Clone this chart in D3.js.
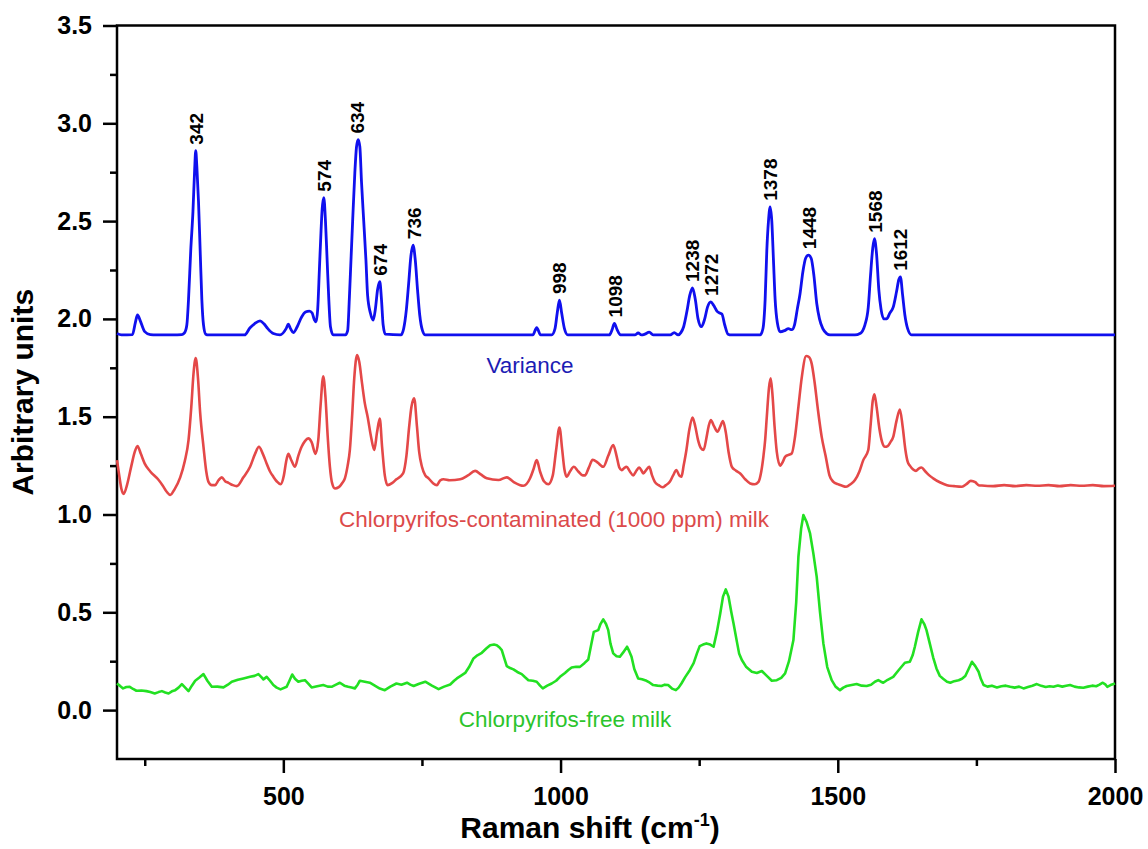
<!DOCTYPE html>
<html>
<head>
<meta charset="utf-8">
<script src="https://cdn.jsdelivr.net/npm/d3@7"></script>
<style>
    body { margin: 0; background: #fff; }
    text { font-family: Arial, "Liberation Sans", sans-serif; }
</style>
</head>
<body>
<div id="chart"></div>
<script>
'use strict';

// Tick values
const xMajorTicks = [500, 1000, 1500, 2000];
const xMinorTicks = [250, 750, 1250, 1750];
const yMajorTicks = [0, 0.5, 1.0, 1.5, 2.0, 2.5, 3.0, 3.5];
const yMinorTicks = [0.25, 0.75, 1.25, 1.75, 2.25, 2.75, 3.25];

// Annotated peaks (cm-1) on the variance spectrum
const peakLabels = [342, 574, 634, 674, 736, 998, 1098, 1238, 1272, 1378, 1448, 1568, 1612];

// Series names
const seriesNames = ['Variance', 'Chlorpyrifos-contaminated (1000 ppm) milk', 'Chlorpyrifos-free milk'];

// Variance spectrum [shift, value]
const varianceSpectrum = [
    [200, 1.925], [208, 1.918], [228, 1.92], [233, 1.98], [237, 2.02], [242, 1.99], [250, 1.935], [260, 1.92],
    [271, 1.918], [300, 1.918], [317, 1.92], [322, 1.93], [326, 1.97], [329, 2.1], [333, 2.35], [337, 2.55],
    [340, 2.76], [342, 2.86], [344, 2.78], [347, 2.6], [350, 2.35], [353, 2.1], [356, 1.97], [360, 1.922],
    [365, 1.918], [430, 1.918], [440, 1.955], [448, 1.975], [458, 1.99], [465, 1.975], [472, 1.95], [482, 1.925],
    [494, 1.918], [505, 1.95], [509, 1.973], [513, 1.95], [518, 1.93], [525, 1.96], [533, 2.01], [540, 2.035],
    [547, 2.04], [552, 2.03], [556, 1.995], [559, 1.985], [562, 2.05], [565, 2.25], [568, 2.45], [570, 2.56],
    [573, 2.62], [576, 2.5], [579, 2.3], [582, 2.1], [585, 1.96], [590, 1.918], [612, 1.918], [616, 1.94],
    [619, 2.1], [622, 2.3], [625, 2.5], [629, 2.75], [632, 2.88], [635, 2.917], [638, 2.88], [641, 2.7],
    [645, 2.5], [649, 2.3], [652, 2.12], [657, 2.03], [662, 1.994], [666, 2.05], [670, 2.15], [674, 2.19],
    [677, 2.1], [680, 1.97], [684, 1.922], [712, 1.918], [717, 1.95], [722, 2.05], [726, 2.18], [730, 2.32],
    [734, 2.377], [738, 2.3], [742, 2.15], [746, 2.02], [751, 1.94], [756, 1.918], [950, 1.918], [957, 1.955],
    [964, 1.918], [984, 1.918], [990, 1.95], [994, 2.03], [998, 2.096], [1002, 2.03], [1007, 1.95], [1013, 1.918],
    [1088, 1.918], [1093, 1.945], [1097, 1.977], [1102, 1.945], [1108, 1.918], [1134, 1.918], [1140, 1.928],
    [1146, 1.918], [1152, 1.922], [1160, 1.932], [1167, 1.918], [1198, 1.918], [1205, 1.93], [1212, 1.918],
    [1217, 1.93], [1222, 1.96], [1228, 2.04], [1233, 2.12], [1238, 2.158], [1243, 2.1], [1248, 2.0], [1254, 1.96],
    [1260, 2.0], [1265, 2.06], [1271, 2.087], [1276, 2.07], [1282, 2.04], [1287, 2.03], [1291, 2.025], [1296, 1.97],
    [1302, 1.922], [1308, 1.918], [1360, 1.918], [1365, 1.95], [1369, 2.1], [1372, 2.35], [1375, 2.5],
    [1378, 2.573], [1381, 2.5], [1384, 2.3], [1387, 2.1], [1391, 1.98], [1396, 1.934], [1404, 1.94], [1411, 1.95],
    [1417, 1.945], [1422, 1.97], [1427, 2.05], [1432, 2.13], [1437, 2.24], [1442, 2.31], [1447, 2.326],
    [1452, 2.31], [1457, 2.22], [1462, 2.08], [1467, 2.0], [1473, 1.95], [1480, 1.925], [1486, 1.918],
    [1531, 1.918], [1540, 1.925], [1549, 1.97], [1555, 2.06], [1559, 2.22], [1563, 2.36], [1566, 2.41],
    [1570, 2.33], [1574, 2.15], [1578, 2.05], [1583, 2.0], [1588, 2.0], [1594, 2.03], [1600, 2.06], [1606, 2.14],
    [1610, 2.2], [1613, 2.215], [1617, 2.12], [1621, 2.02], [1626, 1.95], [1633, 1.918], [2000, 1.918]
];

// Contaminated milk spectrum [shift, value]
const contaminatedSpectrum = [
    [200, 1.278], [204, 1.2], [208, 1.13], [212, 1.105], [218, 1.15], [226, 1.25], [232, 1.32], [237, 1.35],
    [243, 1.31], [250, 1.26], [260, 1.22], [274, 1.18], [282, 1.15], [290, 1.115], [296, 1.1], [304, 1.13],
    [314, 1.19], [322, 1.27], [329, 1.38], [334, 1.55], [338, 1.72], [342, 1.8], [346, 1.7], [350, 1.52],
    [356, 1.346], [361, 1.22], [365, 1.167], [371, 1.15], [377, 1.15], [383, 1.175], [389, 1.19], [395, 1.17],
    [401, 1.162], [409, 1.15], [416, 1.145], [428, 1.19], [440, 1.244], [449, 1.31], [456, 1.346], [463, 1.31],
    [470, 1.26], [476, 1.22], [482, 1.193], [488, 1.17], [495, 1.155], [501, 1.2], [505, 1.27], [509, 1.31],
    [514, 1.28], [521, 1.244], [527, 1.3], [533, 1.346], [539, 1.375], [545, 1.389], [551, 1.37], [558, 1.31],
    [563, 1.38], [567, 1.55], [572, 1.707], [576, 1.6], [580, 1.4], [584, 1.244], [588, 1.16], [593, 1.133],
    [600, 1.14], [606, 1.16], [611, 1.185], [616, 1.25], [620, 1.33], [624, 1.5], [628, 1.7], [633, 1.815],
    [637, 1.78], [642, 1.67], [647, 1.568], [652, 1.5], [658, 1.4], [664, 1.33], [669, 1.42], [674, 1.49],
    [678, 1.35], [683, 1.2], [688, 1.15], [696, 1.16], [704, 1.18], [716, 1.21], [722, 1.3], [727, 1.45],
    [731, 1.55], [736, 1.594], [741, 1.45], [745, 1.32], [750, 1.244], [756, 1.2], [762, 1.185], [770, 1.16],
    [777, 1.15], [783, 1.175], [789, 1.18], [800, 1.175], [819, 1.18], [833, 1.2], [846, 1.223], [856, 1.205],
    [867, 1.185], [888, 1.176], [903, 1.19], [915, 1.167], [933, 1.147], [945, 1.185], [951, 1.23], [957, 1.278],
    [963, 1.22], [970, 1.17], [978, 1.155], [986, 1.2], [992, 1.33], [998, 1.445], [1003, 1.33], [1007, 1.23],
    [1011, 1.193], [1017, 1.22], [1024, 1.244], [1032, 1.22], [1040, 1.2], [1044, 1.2], [1051, 1.24],
    [1058, 1.28], [1067, 1.265], [1077, 1.244], [1086, 1.3], [1095, 1.355], [1101, 1.3], [1106, 1.24],
    [1110, 1.227], [1114, 1.235], [1119, 1.244], [1125, 1.22], [1131, 1.2], [1137, 1.225], [1142, 1.24],
    [1146, 1.225], [1149, 1.21], [1155, 1.23], [1160, 1.244], [1165, 1.2], [1170, 1.167], [1177, 1.15],
    [1184, 1.139], [1190, 1.15], [1197, 1.167], [1203, 1.2], [1209, 1.227], [1214, 1.2], [1218, 1.193],
    [1222, 1.25], [1227, 1.33], [1232, 1.43], [1238, 1.496], [1243, 1.45], [1248, 1.38], [1253, 1.34],
    [1258, 1.33], [1263, 1.39], [1267, 1.45], [1271, 1.483], [1277, 1.45], [1283, 1.423], [1288, 1.45],
    [1293, 1.478], [1298, 1.42], [1303, 1.32], [1309, 1.244], [1316, 1.225], [1324, 1.21], [1333, 1.18],
    [1342, 1.159], [1350, 1.155], [1357, 1.167], [1362, 1.22], [1366, 1.3], [1369, 1.38], [1372, 1.5],
    [1376, 1.65], [1379, 1.696], [1382, 1.62], [1386, 1.45], [1390, 1.32], [1396, 1.25], [1401, 1.27],
    [1405, 1.295], [1411, 1.305], [1417, 1.312], [1423, 1.4], [1429, 1.55], [1435, 1.7], [1443, 1.81],
    [1448, 1.805], [1453, 1.77], [1458, 1.68], [1464, 1.54], [1471, 1.397], [1478, 1.3], [1485, 1.2],
    [1492, 1.167], [1500, 1.155], [1507, 1.148], [1515, 1.142], [1523, 1.155], [1531, 1.176], [1539, 1.22],
    [1546, 1.278], [1555, 1.33], [1559, 1.45], [1563, 1.58], [1566, 1.615], [1570, 1.55], [1575, 1.44],
    [1580, 1.37], [1585, 1.346], [1590, 1.35], [1595, 1.37], [1600, 1.397], [1606, 1.48], [1612, 1.537],
    [1617, 1.45], [1622, 1.33], [1626, 1.27], [1630, 1.25], [1636, 1.23], [1641, 1.223], [1646, 1.235],
    [1651, 1.24], [1658, 1.22], [1665, 1.2], [1672, 1.185], [1684, 1.165], [1697, 1.15], [1710, 1.145],
    [1724, 1.142], [1732, 1.155], [1740, 1.172], [1748, 1.165], [1754, 1.15], [1760, 1.148], [1780, 1.145],
    [1800, 1.15], [1820, 1.145], [1840, 1.15], [1860, 1.147], [1880, 1.15], [1900, 1.145], [1920, 1.15],
    [1940, 1.147], [1960, 1.15], [1980, 1.145], [2000, 1.147]
];

// Chlorpyrifos-free milk spectrum [shift, value]
const freeSpectrum = [
    [200, 0.136], [205, 0.125], [211, 0.111], [217, 0.118], [223, 0.119], [229, 0.108], [235, 0.099], [244, 0.1],
    [253, 0.097], [260, 0.092], [268, 0.085], [275, 0.092], [281, 0.097], [287, 0.09], [293, 0.085], [299, 0.096],
    [305, 0.102], [311, 0.115], [317, 0.133], [323, 0.115], [329, 0.097], [335, 0.125], [341, 0.15], [348, 0.165],
    [356, 0.184], [363, 0.15], [371, 0.119], [381, 0.12], [392, 0.116], [400, 0.13], [407, 0.145], [418, 0.155],
    [428, 0.162], [440, 0.17], [448, 0.175], [455, 0.184], [460, 0.17], [464, 0.157], [470, 0.17], [476, 0.15],
    [482, 0.128], [488, 0.115], [495, 0.106], [506, 0.119], [511, 0.15], [516, 0.182], [521, 0.16], [527, 0.145],
    [533, 0.15], [539, 0.153], [545, 0.135], [551, 0.116], [561, 0.122], [572, 0.128], [580, 0.12], [587, 0.119],
    [595, 0.13], [602, 0.14], [610, 0.125], [617, 0.119], [623, 0.115], [629, 0.111], [634, 0.13], [638, 0.15],
    [647, 0.145], [656, 0.14], [665, 0.125], [674, 0.11], [683, 0.102], [693, 0.12], [704, 0.136], [713, 0.13],
    [723, 0.14], [729, 0.13], [735, 0.123], [745, 0.135], [756, 0.145], [768, 0.125], [780, 0.107], [790, 0.12],
    [801, 0.131], [808, 0.15], [813, 0.162], [820, 0.175], [828, 0.19], [835, 0.22], [843, 0.264], [850, 0.28],
    [858, 0.293], [866, 0.315], [873, 0.332], [880, 0.335], [885, 0.332], [890, 0.32], [894, 0.307], [899, 0.26],
    [903, 0.225], [909, 0.215], [915, 0.208], [922, 0.195], [930, 0.184], [936, 0.168], [942, 0.153], [950, 0.15],
    [957, 0.145], [963, 0.125], [968, 0.111], [976, 0.125], [984, 0.136], [992, 0.15], [999, 0.17], [1008, 0.19],
    [1014, 0.205], [1020, 0.218], [1028, 0.222], [1035, 0.221], [1043, 0.24], [1050, 0.259], [1055, 0.33],
    [1060, 0.4], [1068, 0.409], [1072, 0.44], [1077, 0.464], [1082, 0.44], [1086, 0.409], [1090, 0.34],
    [1095, 0.29], [1101, 0.275], [1107, 0.273], [1113, 0.295], [1120, 0.324], [1124, 0.3], [1128, 0.273],
    [1133, 0.21], [1140, 0.162], [1147, 0.158], [1155, 0.15], [1161, 0.14], [1167, 0.128], [1175, 0.125],
    [1182, 0.123], [1188, 0.13], [1194, 0.128], [1201, 0.11], [1208, 0.102], [1213, 0.115], [1218, 0.136],
    [1225, 0.17], [1233, 0.204], [1240, 0.24], [1246, 0.29], [1251, 0.327], [1257, 0.335], [1263, 0.341],
    [1270, 0.335], [1276, 0.324], [1282, 0.4], [1288, 0.494], [1293, 0.58], [1298, 0.617], [1303, 0.58],
    [1308, 0.5], [1312, 0.443], [1318, 0.35], [1322, 0.29], [1327, 0.256], [1335, 0.22], [1345, 0.196],
    [1354, 0.19], [1363, 0.2], [1372, 0.175], [1381, 0.15], [1390, 0.153], [1398, 0.165], [1405, 0.188],
    [1412, 0.25], [1420, 0.358], [1425, 0.55], [1429, 0.784], [1434, 0.93], [1438, 0.997], [1444, 0.96],
    [1450, 0.903], [1456, 0.8], [1462, 0.681], [1468, 0.5], [1474, 0.341], [1481, 0.22], [1489, 0.153],
    [1496, 0.12], [1504, 0.102], [1510, 0.115], [1516, 0.123], [1525, 0.128], [1534, 0.133], [1543, 0.125],
    [1552, 0.123], [1560, 0.13], [1567, 0.145], [1573, 0.153], [1578, 0.145], [1582, 0.14], [1590, 0.155],
    [1600, 0.17], [1610, 0.205], [1621, 0.242], [1630, 0.247], [1635, 0.28], [1639, 0.324], [1645, 0.4],
    [1651, 0.464], [1656, 0.44], [1660, 0.409], [1666, 0.34], [1672, 0.27], [1678, 0.213], [1684, 0.175],
    [1690, 0.16], [1697, 0.145], [1703, 0.14], [1710, 0.148], [1718, 0.153], [1724, 0.16], [1730, 0.174],
    [1736, 0.21], [1742, 0.247], [1748, 0.225], [1754, 0.196], [1758, 0.16], [1763, 0.128], [1770, 0.12],
    [1778, 0.125], [1787, 0.116], [1795, 0.122], [1803, 0.125], [1811, 0.119], [1819, 0.115], [1827, 0.12],
    [1835, 0.111], [1843, 0.118], [1851, 0.125], [1859, 0.133], [1867, 0.124], [1875, 0.118], [1882, 0.122],
    [1889, 0.119], [1897, 0.126], [1905, 0.12], [1912, 0.124], [1919, 0.128], [1927, 0.12], [1935, 0.116],
    [1943, 0.114], [1951, 0.12], [1959, 0.125], [1966, 0.122], [1972, 0.13], [1978, 0.14], [1983, 0.13],
    [1986, 0.119], [1992, 0.128], [2000, 0.136]
];

class SpectraChart {

    // Configs
    w = 1148;
    h = 849;

    constructor(_ref) {
        this.parent = _ref;
        this.initVis();
    }

    initVis() {
        // Get this vis
        const vis = this;

        vis.svg = d3.select(`#${vis.parent}`)
            .append('svg')
            .attr('width', vis.w)
            .attr('height', vis.h);

        // Plot box
        vis.box = {left: 117, right: 1115, top: 25.5, bottom: 759};

        // Scales
        vis.x = d3.scaleLinear()
            .domain([200, 2000])
            .range([vis.box.left, vis.box.right]);
        vis.y = d3.scaleLinear()
            .domain([-0.25, 3.5])
            .range([vis.box.bottom, vis.box.top]);

        vis.drawAxes();
        vis.drawSpectra();
        vis.drawLabels();
    }

    /*
    drawAxes
     */
    drawAxes() {
        const vis = this;

        // Major x
        vis.svg.append('g')
            .attr('class', 'xAxis')
            .attr('transform', `translate(0, ${vis.box.bottom})`)
            .call(d3.axisBottom(vis.x).tickValues(xMajorTicks).tickSize(14).tickPadding(14)
                .tickFormat(d3.format('d')));
        // Minor x
        vis.svg.append('g')
            .attr('class', 'xAxis')
            .attr('transform', `translate(0, ${vis.box.bottom})`)
            .call(d3.axisBottom(vis.x).tickValues(xMinorTicks).tickSize(7).tickFormat(''));

        // Major y
        vis.svg.append('g')
            .attr('class', 'yAxis')
            .attr('transform', `translate(${vis.box.left}, 0)`)
            .call(d3.axisLeft(vis.y).tickValues(yMajorTicks).tickSize(14).tickPadding(11)
                .tickFormat(d3.format('.1f')));
        // Minor y
        vis.svg.append('g')
            .attr('class', 'yAxis')
            .attr('transform', `translate(${vis.box.left}, 0)`)
            .call(d3.axisLeft(vis.y).tickValues(yMinorTicks).tickSize(7).tickFormat(''));

        vis.svg.selectAll('.xAxis .domain, .yAxis .domain').remove();
        vis.svg.selectAll('.xAxis line, .yAxis line')
            .attr('stroke', '#000')
            .attr('stroke-width', 2.5);
        vis.svg.selectAll('.xAxis text, .yAxis text')
            .attr('fill', '#000')
            .style('font-size', '25px')
            .style('font-weight', 'bold');

        // Frame
        vis.svg.append('rect')
            .attr('x', vis.box.left)
            .attr('y', vis.box.top)
            .attr('width', vis.box.right - vis.box.left)
            .attr('height', vis.box.bottom - vis.box.top)
            .attr('fill', 'none')
            .attr('stroke', '#000')
            .attr('stroke-width', 2.5);

        // Axis titles
        vis.svg.append('text')
            .attr('transform', `translate(33, ${(vis.box.top + vis.box.bottom) / 2}) rotate(-90)`)
            .attr('text-anchor', 'middle')
            .style('font-size', '30px')
            .style('font-weight', 'bold')
            .text('Arbitrary units');

        const xTitle = vis.svg.append('text')
            .attr('x', 590)
            .attr('y', 838)
            .attr('text-anchor', 'middle')
            .style('font-size', '30px')
            .style('font-weight', 'bold');
        xTitle.append('tspan').text('Raman shift (cm');
        xTitle.append('tspan').attr('dy', -12).style('font-size', '18px').text('-1');
        xTitle.append('tspan').attr('dy', 12).text(')');
    }

    /*
    drawSpectra
     */
    drawSpectra() {
        const vis = this;

        const smooth = d3.line()
            .x(d => vis.x(d[0]))
            .y(d => vis.y(d[1]))
            .curve(d3.curveMonotoneX);
        const jagged = d3.line()
            .x(d => vis.x(d[0]))
            .y(d => vis.y(d[1]));

        vis.svg.append('path')
            .datum(freeSpectrum)
            .attr('d', jagged)
            .attr('fill', 'none')
            .attr('stroke', '#22e022')
            .attr('stroke-width', 2.6)
            .attr('stroke-linejoin', 'round');
        vis.svg.append('path')
            .datum(contaminatedSpectrum)
            .attr('d', smooth)
            .attr('fill', 'none')
            .attr('stroke', '#e44848')
            .attr('stroke-width', 2.6)
            .attr('stroke-linejoin', 'round');
        vis.svg.append('path')
            .datum(varianceSpectrum)
            .attr('d', smooth)
            .attr('fill', 'none')
            .attr('stroke', '#1010ee')
            .attr('stroke-width', 2.8)
            .attr('stroke-linejoin', 'round');
    }

    /*
    drawLabels
     */
    drawLabels() {
        const vis = this;

        // Peak labels above the variance spectrum
        const peakTop = p => d3.max(varianceSpectrum.filter(d => Math.abs(d[0] - p) <= 8), d => d[1]);
        vis.svg.append('g')
            .selectAll('text')
            .data(peakLabels)
            .join('text')
            .attr('transform', d => `translate(${vis.x(d)}, ${vis.y(peakTop(d)) - 6}) rotate(-90)`)
            .attr('dy', '0.36em')
            .style('font-size', '19px')
            .style('font-weight', 'bold')
            .text(d => d);

        // Series names
        const nameSpots = [
            {x: 530, y: 373, fill: '#1c1cb4'},
            {x: 554, y: 527, fill: '#dc4a4a'},
            {x: 565, y: 727, fill: '#2cc42c'}
        ];
        vis.svg.append('g')
            .selectAll('text')
            .data(seriesNames)
            .join('text')
            .attr('x', (d, i) => nameSpots[i].x)
            .attr('y', (d, i) => nameSpots[i].y)
            .attr('text-anchor', 'middle')
            .attr('fill', (d, i) => nameSpots[i].fill)
            .style('font-size', '22.5px')
            .text(d => d);
    }
}

new SpectraChart('chart');
</script>
</body>
</html>
